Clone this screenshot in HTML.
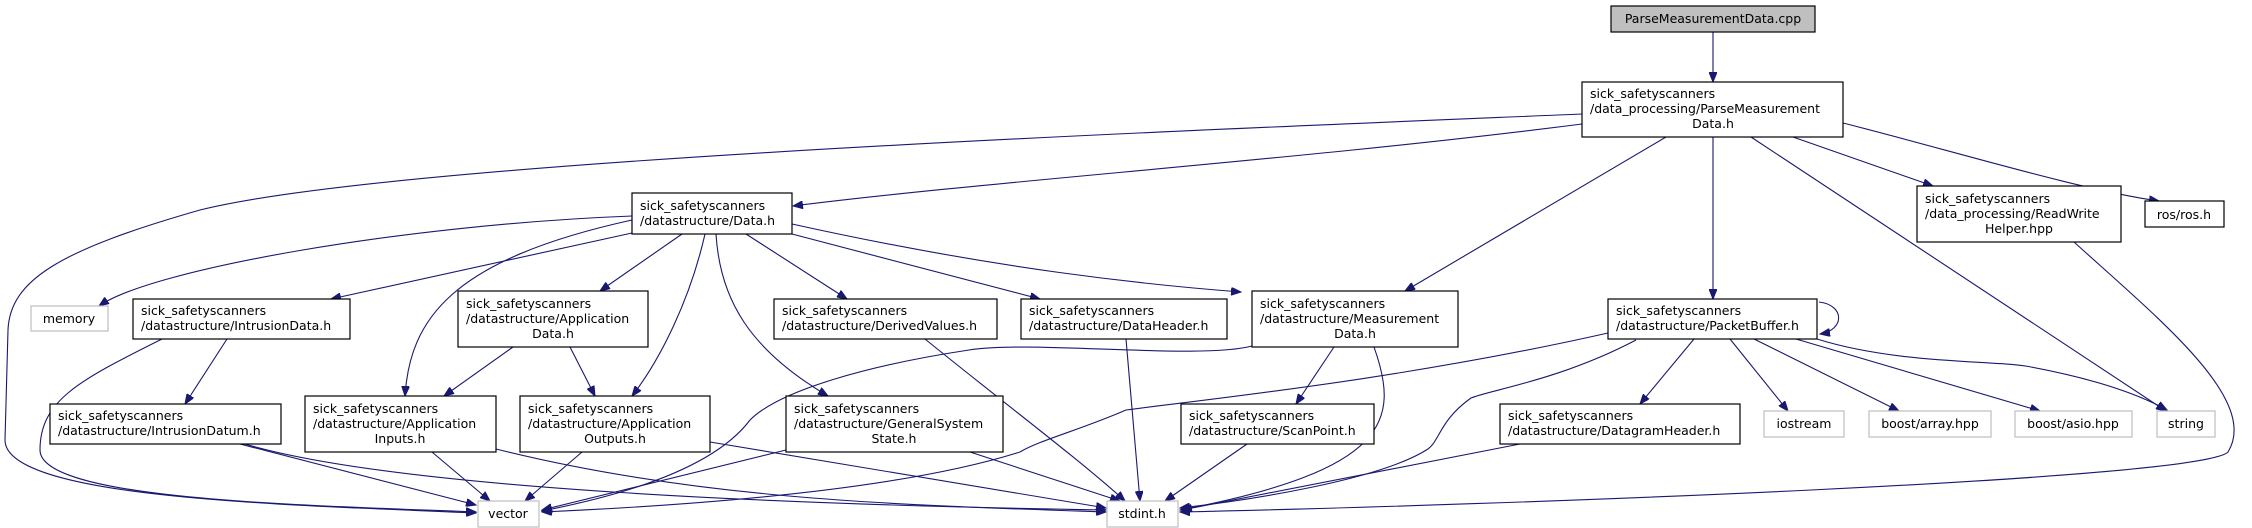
<!DOCTYPE html>
<html><head><meta charset="utf-8"><style>
html,body{margin:0;padding:0;background:#fff;}
svg{display:block;}
text{font-family:"DejaVu Sans","Liberation Sans",sans-serif;font-size:12.5px;fill:#000;}
.n{fill:#fff;stroke:#000;stroke-width:1.2;}
.g{fill:#fff;stroke:#bfbfbf;stroke-width:1.2;}
.e{fill:none;stroke:#191970;stroke-width:1.1;}
</style></head><body>
<svg width="2252" height="528" viewBox="0 0 2252 528" xmlns="http://www.w3.org/2000/svg">
<defs><marker id="a" markerWidth="11" markerHeight="8" refX="10" refY="4" orient="auto" markerUnits="userSpaceOnUse"><path d="M0,0 L10,4 L0,8 z" fill="#191970" stroke="#191970"/></marker></defs>
<g marker-end="url(#a)">
<path class="e" d="M1713,32 L1713,82"/>
<path class="e" d="M1582,114 C1200,130 400,160 200,210 C60,250 10,280 8,330 L5,440 C5,500 300,505 476,513"/>
<path class="e" d="M1582,124 C1300,160 1000,180 793,206"/>
<path class="e" d="M1666,137 L1405,291"/>
<path class="e" d="M1713,137 L1713,299"/>
<path class="e" d="M1751,137 L2166,411"/>
<path class="e" d="M1793,137 L1933,186"/>
<path class="e" d="M1843,123 C1950,150 2080,190 2159,201"/>
<path class="e" d="M2074,242 C2160,320 2260,400 2228,452 C2200,480 1500,505 1180,512"/>
<path class="e" d="M632,216 C400,225 150,270 99,306"/>
<path class="e" d="M632,233 L331,299"/>
<path class="e" d="M632,220 C450,260 410,320 405,396"/>
<path class="e" d="M682,234 L600,291"/>
<path class="e" d="M705,234 C690,300 660,360 632,396"/>
<path class="e" d="M716,234 C720,300 750,350 828,396"/>
<path class="e" d="M746,234 L847,299"/>
<path class="e" d="M792,234 L1040,299"/>
<path class="e" d="M792,224 C1000,270 1150,285 1241,292"/>
<path class="e" d="M162,339 C80,380 40,400 40,450 C40,500 300,505 476,512"/>
<path class="e" d="M227,339 L185,404"/>
<path class="e" d="M513,347 L444,396"/>
<path class="e" d="M570,347 L595,396"/>
<path class="e" d="M240,444 L476,505"/>
<path class="e" d="M245,444 C400,490 800,505 1106,510"/>
<path class="e" d="M432,452 L490,501"/>
<path class="e" d="M496,449 C700,500 900,505 1106,512"/>
<path class="e" d="M582,452 L525,501"/>
<path class="e" d="M710,442 L1106,508"/>
<path class="e" d="M786,450 L542,510"/>
<path class="e" d="M970,452 L1120,501"/>
<path class="e" d="M925,339 C1000,400 1080,460 1125,501"/>
<path class="e" d="M1126,339 L1140,501"/>
<path class="e" d="M1252,346 C1200,360 1030,340 969,350 C870,365 780,390 750,420 C720,460 650,490 542,511"/>
<path class="e" d="M1334,347 L1296,404"/>
<path class="e" d="M1374,347 C1400,420 1390,470 1180,510"/>
<path class="e" d="M1247,444 L1165,501"/>
<path class="e" d="M1608,333 C1400,380 1200,400 1126,410 C1080,430 1040,440 1020,452 C900,490 700,505 542,512"/>
<path class="e" d="M1636,340 C1560,380 1490,390 1471,398 C1440,420 1440,440 1428,449 C1380,480 1250,500 1180,508"/>
<path class="e" d="M1694,339 L1640,404"/>
<path class="e" d="M1730,339 L1788,411"/>
<path class="e" d="M1754,339 L1899,411"/>
<path class="e" d="M1796,339 L2040,411"/>
<path class="e" d="M1817,339 C1900,365 2000,360 2031,367 C2100,380 2140,395 2167,410"/>
<path class="e" d="M1819,302 C1845,305 1845,330 1820,334"/>
<path class="e" d="M1520,444 L1182,510"/>
</g>
<!-- nodes -->
<rect x="1611" y="6" width="204" height="26" fill="#bfbfbf" stroke="#000" stroke-width="1.2"/><text x="1713" y="23" text-anchor="middle">ParseMeasurementData.cpp</text>
<rect class="n" x="1582" y="82" width="261" height="55"/><text x="1590" y="98">sick_safetyscanners</text><text x="1590" y="113">/data_processing/ParseMeasurement</text><text x="1713" y="128" text-anchor="middle">Data.h</text>
<rect class="n" x="1917" y="186" width="204" height="56"/><text x="1925" y="203">sick_safetyscanners</text><text x="1925" y="218">/data_processing/ReadWrite</text><text x="2019" y="233" text-anchor="middle">Helper.hpp</text>
<rect class="n" x="2145" y="201" width="79" height="26"/><text x="2184" y="219" text-anchor="middle">ros/ros.h</text>
<rect class="n" x="632" y="193" width="160" height="41"/><text x="640" y="210">sick_safetyscanners</text><text x="640" y="225">/datastructure/Data.h</text>
<rect class="g" x="31" y="306" width="77" height="25"/><text x="69" y="323" text-anchor="middle">memory</text>
<rect class="n" x="133" y="299" width="217" height="40"/><text x="141" y="315">sick_safetyscanners</text><text x="141" y="330">/datastructure/IntrusionData.h</text>
<rect class="n" x="458" y="291" width="190" height="56"/><text x="466" y="308">sick_safetyscanners</text><text x="466" y="323">/datastructure/Application</text><text x="553" y="338" text-anchor="middle">Data.h</text>
<rect class="n" x="774" y="299" width="223" height="40"/><text x="782" y="315">sick_safetyscanners</text><text x="782" y="330">/datastructure/DerivedValues.h</text>
<rect class="n" x="1021" y="299" width="206" height="40"/><text x="1029" y="315">sick_safetyscanners</text><text x="1029" y="330">/datastructure/DataHeader.h</text>
<rect class="n" x="1252" y="291" width="206" height="56"/><text x="1260" y="308">sick_safetyscanners</text><text x="1260" y="323">/datastructure/Measurement</text><text x="1355" y="338" text-anchor="middle">Data.h</text>
<rect class="n" x="1608" y="299" width="209" height="40"/><text x="1616" y="315">sick_safetyscanners</text><text x="1616" y="330">/datastructure/PacketBuffer.h</text>
<rect class="n" x="50" y="404" width="231" height="40"/><text x="58" y="420">sick_safetyscanners</text><text x="58" y="435">/datastructure/IntrusionDatum.h</text>
<rect class="n" x="305" y="396" width="191" height="56"/><text x="313" y="413">sick_safetyscanners</text><text x="313" y="428">/datastructure/Application</text><text x="400" y="443" text-anchor="middle">Inputs.h</text>
<rect class="n" x="520" y="396" width="190" height="56"/><text x="528" y="413">sick_safetyscanners</text><text x="528" y="428">/datastructure/Application</text><text x="615" y="443" text-anchor="middle">Outputs.h</text>
<rect class="n" x="786" y="396" width="217" height="56"/><text x="794" y="413">sick_safetyscanners</text><text x="794" y="428">/datastructure/GeneralSystem</text><text x="894" y="443" text-anchor="middle">State.h</text>
<rect class="n" x="1181" y="404" width="193" height="40"/><text x="1189" y="420">sick_safetyscanners</text><text x="1189" y="435">/datastructure/ScanPoint.h</text>
<rect class="n" x="1500" y="404" width="240" height="40"/><text x="1508" y="420">sick_safetyscanners</text><text x="1508" y="435">/datastructure/DatagramHeader.h</text>
<rect class="g" x="1764" y="411" width="80" height="26"/><text x="1804" y="428" text-anchor="middle">iostream</text>
<rect class="g" x="1869" y="411" width="122" height="26"/><text x="1930" y="428" text-anchor="middle">boost/array.hpp</text>
<rect class="g" x="2015" y="411" width="117" height="26"/><text x="2073" y="428" text-anchor="middle">boost/asio.hpp</text>
<rect class="g" x="2157" y="411" width="58" height="26"/><text x="2186" y="428" text-anchor="middle">string</text>
<rect class="g" x="478" y="501" width="61" height="26"/><text x="508" y="518" text-anchor="middle">vector</text>
<rect class="g" x="1107" y="501" width="71" height="26"/><text x="1142" y="518" text-anchor="middle">stdint.h</text>
</svg>
</body></html>
